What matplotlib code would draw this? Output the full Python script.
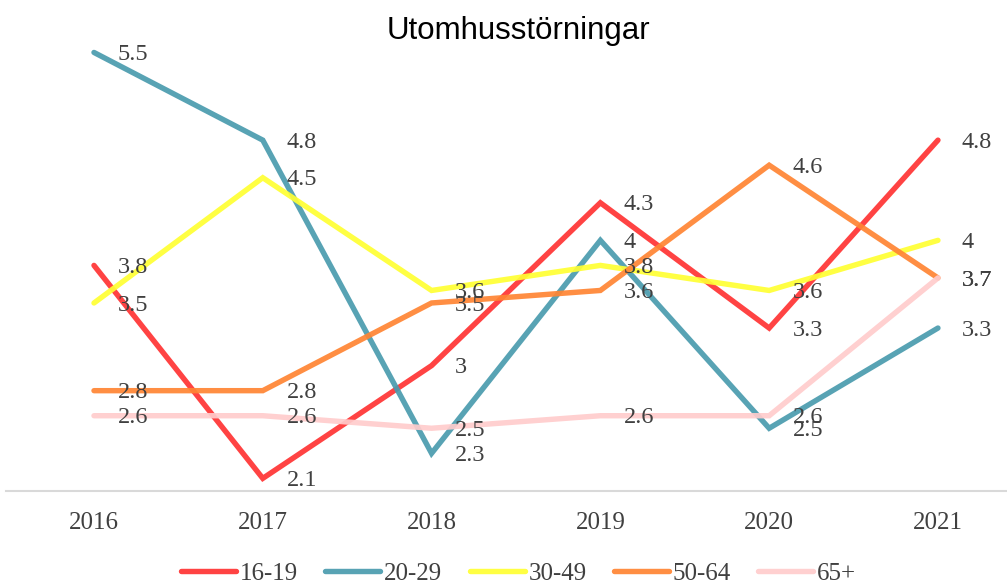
import matplotlib
matplotlib.use("Agg")
import matplotlib.pyplot as plt

years = ["2016", "2017", "2018", "2019", "2020", "2021"]
series_names = ["16-19", "20-29", "30-49", "50-64", "65+"]
vals_16_19 = [3.8, 2.1, 3.0, 4.3, 3.3, 4.8]
vals_20_29 = [5.5, 4.8, 2.3, 4.0, 2.5, 3.3]
vals_30_49 = [3.5, 4.5, 3.6, 3.8, 3.6, 4.0]
vals_50_64 = [2.8, 2.8, 3.5, 3.6, 4.6, 3.7]
vals_65 = [2.6, 2.6, 2.5, 2.6, 2.6, 3.7]
colors = ["#FF3333", "#4A9BAE", "#FFFF33", "#FF8533", "#FFCCCC"]

all_vals = [vals_16_19, vals_20_29, vals_30_49, vals_50_64, vals_65]

SERIF = ["Liberation Serif", "DejaVu Serif"]
TEXT_COL = "#404040"

fig = plt.figure(figsize=(10.07, 5.83), dpi=100)
ax = fig.add_axes([0.006, 0.158, 0.994, 0.795])

x = list(range(len(years)))
for name, vals, col in zip(series_names, all_vals, colors):
    ax.plot(x, vals, color=col, linewidth=3.9, alpha=0.92,
            solid_capstyle="round", solid_joinstyle="miter", label=name)

# data labels sit to the right of each point (overlaps are in the original too)
for vals in all_vals:
    for xi, v in zip(x, vals):
        ax.annotate(f"{v:g}", (xi, v), xytext=(17, -1.5), textcoords="offset points",
                    ha="left", va="center", fontsize=17.5, color=TEXT_COL,
                    family=SERIF, zorder=5)

ax.set_xlim(-0.521, 5.409)
ax.set_ylim(2.0, 5.7)
ax.set_xticks(x)
ax.set_xticklabels(years, family=SERIF, fontsize=18, color=TEXT_COL)
ax.set_yticks([])
ax.tick_params(axis="x", length=0, pad=15)
for side in ["top", "right", "left"]:
    ax.spines[side].set_visible(False)
ax.spines["bottom"].set_color("#D9D9D9")
ax.spines["bottom"].set_linewidth(1.5)

fig.text(0.515, 0.947, "Utomhusstörningar", ha="center", va="center",
         fontsize=22.5, family=["Liberation Sans", "DejaVu Sans"], color="black")

leg = fig.legend(loc="center", bbox_to_anchor=(0.515, 0.016), ncol=5,
                 frameon=False, handlelength=2.2, handletextpad=0.15,
                 columnspacing=1.1, prop={"family": SERIF, "size": 18})
for t in leg.get_texts():
    t.set_color(TEXT_COL)

fig.savefig("out.png", dpi=100)
